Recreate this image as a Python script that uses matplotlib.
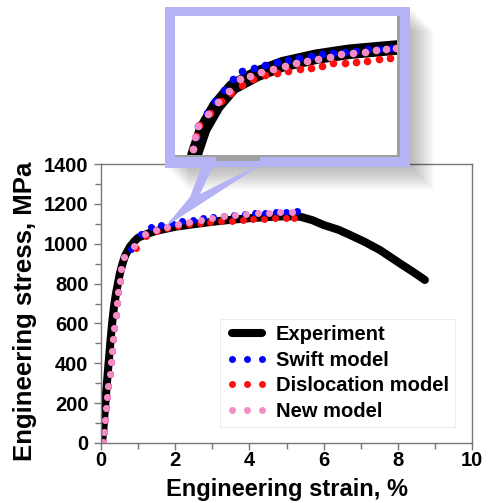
import numpy as np
import matplotlib.pyplot as plt
from matplotlib.patches import Rectangle, Polygon
from matplotlib.ticker import MultipleLocator

plt.rcParams['font.family'] = ['Liberation Sans', 'DejaVu Sans']
plt.rcParams['font.weight'] = 'bold'

# experiment (engineering strain %, stress MPa)
exp_strain = [0, 0.03, 0.06, 0.10, 0.15, 0.20, 0.25, 0.30, 0.35, 0.40, 0.45, 0.51, 0.58, 0.65,
              0.78, 0.90, 1.0, 1.25, 1.5, 2.0, 2.5, 3.0, 3.5, 4.0, 4.5, 5.0, 5.36, 5.7, 6.0,
              6.4, 6.71, 7.1, 7.52, 8.06, 8.4, 8.73]
exp_stress = [0, 10, 60, 160, 280, 390, 500, 600, 684, 745, 795, 852, 900, 940,
              985, 1012, 1030, 1050, 1065, 1085, 1098, 1110, 1120, 1128, 1134, 1138, 1136, 1118, 1094,
              1070, 1044, 1010, 968, 901, 860, 818]

# model points
el_strain = [0.05, 0.08, 0.10, 0.13, 0.15, 0.19, 0.23, 0.26, 0.29, 0.33, 0.36, 0.40, 0.43,
             0.47, 0.51, 0.55, 0.61]
el_stress = [5, 57, 115, 174, 232, 288, 346, 405, 463, 520, 579, 641, 701, 756, 814, 871, 932]

swift_strain = el_strain + [0.80, 1.09, 1.36, 1.63, 1.91, 2.19, 2.47, 2.75, 3.03, 3.31, 3.59,
                            3.87, 4.15, 4.43, 4.71, 4.99, 5.27]
swift_stress = el_stress + [975, 1049, 1082, 1094, 1104, 1112, 1121, 1128, 1134, 1139, 1144,
                            1148, 1152, 1155, 1158, 1161, 1164]

disl_strain = el_strain + [0.93, 1.22, 1.50, 1.79, 2.08, 2.37, 2.66, 2.95, 3.24, 3.53, 3.82,
                           4.11, 4.40, 4.69, 4.98, 5.21]
disl_stress = el_stress + [980, 1040, 1066, 1080, 1090, 1097, 1103, 1108, 1112, 1116, 1119,
                           1122, 1125, 1127, 1129, 1131]

new_strain = el_strain + [0.90, 1.19, 1.48, 1.77, 2.07, 2.38, 2.69, 3.00, 3.31, 3.61, 3.91,
                          4.22, 4.53, 4.83, 5.14]
new_stress = el_stress + [988, 1047, 1069, 1082, 1099, 1110, 1119, 1128, 1137, 1143, 1148,
                          1152, 1155, 1157, 1160]

# magnified picture in the callout
in_exp_x = [0.98, 1.03, 1.21, 1.50, 1.85, 2.37, 2.94, 3.66, 4.38, 5.10, 5.6]
in_exp_y = [880, 902, 952, 999, 1037, 1063, 1083, 1098, 1108, 1114, 1118]
in_swift_x = [1.00, 1.05, 1.10, 1.30, 1.46, 1.66, 1.85, 2.06, 2.31, 2.56, 2.80, 3.04, 3.29,
              3.54, 3.78, 4.02, 4.28, 4.53, 4.78, 5.03, 5.29]
in_swift_y = [912, 936, 959, 985, 1009, 1031, 1054, 1069, 1075, 1082, 1088, 1092, 1096,
              1100, 1103, 1106, 1108, 1110, 1113, 1114, 1116]
in_disl_x = [1.00, 1.06, 1.12, 1.35, 1.60, 1.82, 2.05, 2.29, 2.55, 2.80, 3.05, 3.30, 3.54,
             3.78, 4.02, 4.28, 4.53, 4.76, 5.02, 5.26]
in_disl_y = [912, 938, 960, 985, 1008, 1025, 1040, 1053, 1061, 1066, 1069, 1073, 1076,
             1079, 1085, 1086, 1088, 1090, 1093, 1096]
in_new_x = [0.996, 1.03, 1.09, 1.32, 1.54, 1.77, 2.01, 2.22, 2.47, 2.72, 2.98, 3.23, 3.45,
            3.70, 3.95, 4.20, 4.45, 4.71, 4.96, 5.18, 5.39]
in_new_y = [912, 936, 959, 982, 1006, 1029, 1053, 1059, 1067, 1073, 1079, 1086, 1090,
            1094, 1098, 1103, 1106, 1108, 1111, 1113, 1115]

c_swift = '#0000ff'
c_disl = '#ff1010'
c_new = '#f48cc6'
c_frame = '#b4b4f5'

W, H = 490, 503
fig = plt.figure(figsize=(W / 100, H / 100), dpi=100)

def px(x0, y0, x1, y1):
    return [x0 / W, 1 - y1 / H, (x1 - x0) / W, (y1 - y0) / H]

ax = fig.add_axes(px(101, 164, 472, 443))
ax.plot(exp_strain, exp_stress, color='k', lw=5.8, solid_capstyle='round', label='Experiment')
ax.plot(swift_strain, swift_stress, 'o', color=c_swift, ms=5, mew=0, label='Swift model')
ax.plot(disl_strain, disl_stress, 'o', color=c_disl, ms=5, mew=0, label='Dislocation model')
ax.plot(new_strain, new_stress, 'o', color=c_new, ms=5, mew=0, label='New model')
ax.set_xlim(0, 10)
ax.set_ylim(0, 1400)
ax.xaxis.set_major_locator(MultipleLocator(2))
ax.xaxis.set_minor_locator(MultipleLocator(1))
ax.yaxis.set_major_locator(MultipleLocator(200))
ax.yaxis.set_minor_locator(MultipleLocator(100))
for s in ax.spines.values():
    s.set_color('#777777')
    s.set_linewidth(1)
ax.tick_params(which='both', direction='out', color='#777777', width=1)
ax.tick_params(which='major', length=5)
ax.tick_params(which='minor', length=4)
ax.tick_params(axis='x', pad=0.5)
ax.tick_params(axis='y', pad=4)
for lab in ax.get_xticklabels() + ax.get_yticklabels():
    lab.set_fontsize(14.5)
    lab.set_fontweight('bold')
ax.set_xlabel('Engineering strain, %', fontsize=17, fontweight='bold', va='top')
ax.xaxis.set_label_coords(0.5, -0.127)
fig.text(25 / W, 1 - 311.5 / H, 'Engineering stress, MPa', fontsize=18.5, fontweight='bold',
         rotation=90, ha='center', va='center')

leg = ax.legend(loc='lower right', bbox_to_anchor=(0.954, 0.057), frameon=True,
                fancybox=False, edgecolor='#e8e8e8', numpoints=3,
                prop={'size': 14.5, 'weight': 'bold'},
                handlelength=2.1, handletextpad=0.4, labelspacing=0.33,
                borderaxespad=0, borderpad=0.3)
leg.get_frame().set_linewidth(0.8)

# overlay: shadow, frame and callout
ov = fig.add_axes([0, 0, 1, 1], zorder=2)
ov.set_xlim(0, W)
ov.set_ylim(H, 0)
ov.axis('off')
for k in range(1, 13):
    ov.add_patch(Rectangle((165 + 2 * k, 7 + 2 * k), 245, 159, facecolor='k',
                           alpha=0.022, lw=0))
ov.add_patch(Rectangle((165, 7), 245, 160, facecolor=c_frame, lw=0))
ov.add_patch(Rectangle((175, 16), 225, 145, facecolor='#a0a0a0', lw=0))
ov.add_patch(Rectangle((165, 157), 51, 11, facecolor=c_frame, lw=0))
ov.add_patch(Rectangle((260, 157), 150, 10, facecolor=c_frame, lw=0))
ov.add_patch(Polygon([(201, 168), (215, 162), (200, 194), (260, 164), (270, 159),
                      (165, 227), (190, 197)],
                     closed=True, facecolor=c_frame, lw=0))

ins = fig.add_axes(px(175, 16, 396.5, 155), zorder=3)
ins.plot(in_exp_x, in_exp_y, color='k', lw=10.5)
ins.plot(in_swift_x, in_swift_y, 'o', color=c_swift, ms=5.5, mew=0)
ins.plot(in_disl_x, in_disl_y, 'o', color=c_disl, ms=5.5, mew=0)
ins.plot(in_new_x, in_new_y, 'o', color=c_new, ms=5.5, mew=0)
ins.set_xlim(0.6, 5.4)
ins.set_ylim(900, 1180)
ins.set_xticks([])
ins.set_yticks([])
for s in ins.spines.values():
    s.set_visible(False)

fig.savefig('out.png', dpi=100)
